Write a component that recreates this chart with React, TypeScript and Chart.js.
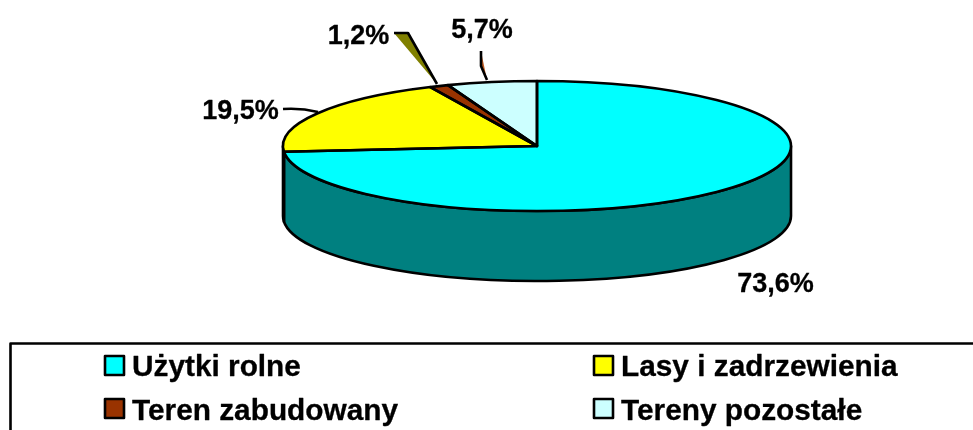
import React, { useEffect, useRef } from "react";
import { Chart, registerables } from "chart.js";

Chart.register(...registerables);

const categories = ["Użytki rolne", "Lasy i zadrzewienia", "Teren zabudowany", "Tereny pozostałe"];
const values = [73.6, 19.5, 1.2, 5.7];
const valueLabels = ["73,6%", "19,5%", "1,2%", "5,7%"];
const topColors = ["#00FFFF", "#FFFF00", "#993300", "#CCFFFF"];
const sideColors = ["#008080", "#808000", "#4D1A00", "#668080"];

const FONT = '"Liberation Sans", Arial, sans-serif';
const SQUASH = 65 / 254;
const DEPTH = 70;
const LINE = 2.6;

const labelPlaces = [
  { x: 775.5, y: 285, align: "center" },
  { x: 240.5, y: 112, align: "center" },
  { x: 358.5, y: 37, align: "center" },
  { x: 482, y: 31, align: "center" },
];
const legendPlaces = [
  { x: 105, y: 356, dy: 12 },
  { x: 594, y: 356, dy: 12 },
  { x: 105, y: 399, dy: 13 },
  { x: 594, y: 399, dy: 13 },
];

const pie3d = {
  id: "pie3d",
  beforeDatasetsDraw(chart: any) {
    const ctx = chart.ctx;
    const arcs = chart.getDatasetMeta(0).data;
    const { x: cx, y: cy, outerRadius: rx } = arcs[0].getProps(["x", "y", "outerRadius"]);
    const ry = rx * SQUASH;
    ctx.save();
    ctx.lineWidth = LINE;
    ctx.strokeStyle = "#000";
    ctx.lineJoin = "round";
    arcs.forEach((arc: any, i: number) => {
      const { startAngle, endAngle } = arc.getProps(["startAngle", "endAngle"]);
      const a = Math.max(startAngle, 0);
      const b = Math.min(endAngle, Math.PI);
      if (b <= a) return;
      ctx.beginPath();
      ctx.ellipse(cx, cy, rx, ry, 0, a, b);
      ctx.ellipse(cx, cy + DEPTH, rx, ry, 0, b, a, true);
      ctx.closePath();
      ctx.fillStyle = sideColors[i];
      ctx.fill();
      ctx.stroke();
    });
    ctx.restore();
    ctx.save();
    ctx.translate(cx, cy);
    ctx.scale(1, SQUASH);
    ctx.translate(-cx, -cy);
  },
  afterDatasetsDraw(chart: any) {
    const ctx = chart.ctx;
    ctx.restore();
    const arcs = chart.getDatasetMeta(0).data;
    const { x: cx, y: cy, outerRadius: rx } = arcs[0].getProps(["x", "y", "outerRadius"]);
    const ry = rx * SQUASH;
    ctx.save();
    ctx.lineWidth = LINE;
    ctx.strokeStyle = "#000";
    ctx.lineJoin = "round";
    arcs.forEach((arc: any) => {
      const { startAngle, endAngle } = arc.getProps(["startAngle", "endAngle"]);
      ctx.beginPath();
      ctx.moveTo(cx, cy);
      ctx.ellipse(cx, cy, rx, ry, 0, startAngle, endAngle);
      ctx.closePath();
      ctx.stroke();
    });

    // leader lines
    ctx.fillStyle = "#808000";
    ctx.beginPath();
    ctx.moveTo(394, 33);
    ctx.lineTo(408, 33);
    ctx.lineTo(437, 84);
    ctx.closePath();
    ctx.fill();
    ctx.beginPath();
    ctx.moveTo(394, 33);
    ctx.lineTo(408, 33);
    ctx.lineTo(437, 84);
    ctx.stroke();

    ctx.fillStyle = "#C05A20";
    ctx.beginPath();
    ctx.moveTo(481, 51);
    ctx.lineTo(481, 66);
    ctx.lineTo(487, 80);
    ctx.closePath();
    ctx.fill();
    ctx.beginPath();
    ctx.moveTo(481, 51);
    ctx.lineTo(481, 66);
    ctx.lineTo(487, 80);
    ctx.stroke();

    ctx.beginPath();
    ctx.moveTo(283, 109);
    ctx.bezierCurveTo(298, 108, 306, 109, 318, 112);
    ctx.stroke();

    // value labels
    ctx.fillStyle = "#000";
    ctx.font = `bold 27px ${FONT}`;
    ctx.textBaseline = "middle";
    ctx.lineWidth = 0.3;
    valueLabels.forEach((t, i) => {
      const p = labelPlaces[i];
      ctx.textAlign = p.align;
      ctx.fillText(t, p.x, p.y);
      ctx.strokeText(t, p.x, p.y);
    });

    // legend
    ctx.lineWidth = LINE;
    ctx.strokeRect(10.5, 343.5, 1000, 200);
    ctx.textAlign = "left";
    ctx.font = `bold 29.8px ${FONT}`;
    categories.forEach((t, i) => {
      const p = legendPlaces[i];
      ctx.fillStyle = topColors[i];
      ctx.fillRect(p.x, p.y, 19, 19);
      ctx.lineWidth = LINE;
      ctx.strokeRect(p.x, p.y, 19, 19);
      ctx.fillStyle = "#000";
      ctx.lineWidth = 0.3;
      ctx.fillText(t, p.x + 27, p.y + p.dy);
      ctx.strokeText(t, p.x + 27, p.y + p.dy);
    });
    ctx.restore();
  },
};

export default function App() {
  const ref = useRef<HTMLCanvasElement>(null);
  useEffect(() => {
    const chart = new Chart(ref.current as HTMLCanvasElement, {
      type: "pie",
      data: {
        labels: categories,
        datasets: [
          {
            data: values,
            backgroundColor: topColors,
            borderWidth: 0,
            radius: 254,
          } as any,
        ],
      },
      options: {
        responsive: false,
        animation: false,
        layout: { padding: { left: 101, right: 0, top: 0, bottom: 138 } },
        plugins: { legend: { display: false }, tooltip: { enabled: false } },
      },
      plugins: [pie3d],
    } as any);
    return () => chart.destroy();
  }, []);
  return (
    <div style={{ position: "absolute", left: 0, top: 0, width: 973, height: 430, overflow: "hidden", background: "#fff" }}>
      <canvas ref={ref} width={973} height={430} style={{ display: "block" }} />
    </div>
  );
}
